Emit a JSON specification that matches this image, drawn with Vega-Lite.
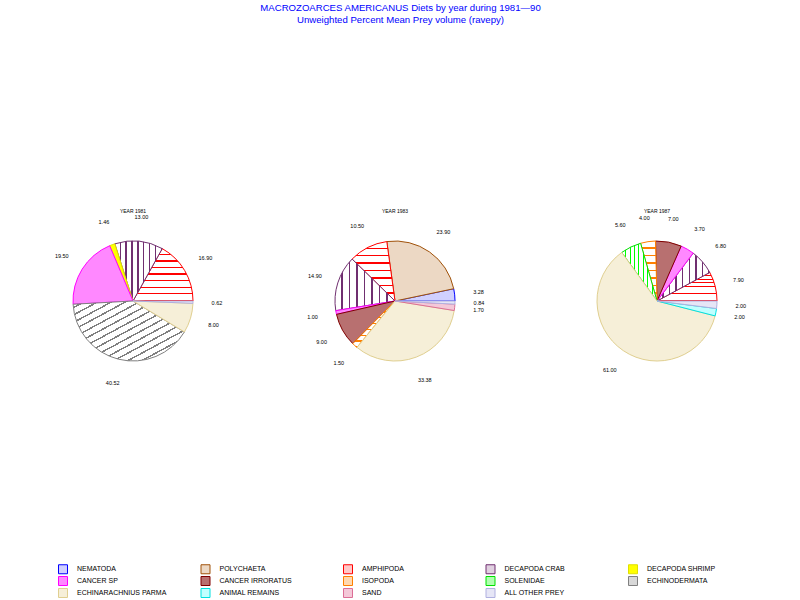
{
  "$schema": "https://vega.github.io/schema/vega-lite/v6.json",
  "background": "white",
  "padding": {"left": 54, "top": 3, "right": 5, "bottom": 5},
  "title": {
    "text": ["MACROZOARCES AMERICANUS Diets by year during 1981—90", "Unweighted Percent Mean Prey volume (ravepy)"],
    "color": "#0000ff", "fontSize": 9.6, "fontWeight": "normal", "font": "Liberation Sans",
    "anchor": "middle", "lineHeight": 12, "offset": 184
  },
  "data": {"values": [
    {"year": "YEAR 1981", "prey": "AMPHIPODA", "k": 3, "v": 16.9},
    {"year": "YEAR 1981", "prey": "DECAPODA CRAB", "k": 4, "v": 13.0},
    {"year": "YEAR 1981", "prey": "DECAPODA SHRIMP", "k": 5, "v": 1.46},
    {"year": "YEAR 1981", "prey": "CANCER SP", "k": 6, "v": 19.5},
    {"year": "YEAR 1981", "prey": "ECHINODERMATA", "k": 10, "v": 40.52},
    {"year": "YEAR 1981", "prey": "ECHINARACHNIUS PARMA", "k": 11, "v": 8.0},
    {"year": "YEAR 1981", "prey": "ALL OTHER PREY", "k": 14, "v": 0.62},
    {"year": "YEAR 1983", "prey": "NEMATODA", "k": 1, "v": 3.28},
    {"year": "YEAR 1983", "prey": "POLYCHAETA", "k": 2, "v": 23.9},
    {"year": "YEAR 1983", "prey": "AMPHIPODA", "k": 3, "v": 10.5},
    {"year": "YEAR 1983", "prey": "DECAPODA CRAB", "k": 4, "v": 14.9},
    {"year": "YEAR 1983", "prey": "CANCER SP", "k": 6, "v": 1.0},
    {"year": "YEAR 1983", "prey": "CANCER IRRORATUS", "k": 7, "v": 9.0},
    {"year": "YEAR 1983", "prey": "ISOPODA", "k": 8, "v": 1.5},
    {"year": "YEAR 1983", "prey": "ECHINARACHNIUS PARMA", "k": 11, "v": 33.38},
    {"year": "YEAR 1983", "prey": "SAND", "k": 13, "v": 1.7},
    {"year": "YEAR 1983", "prey": "ALL OTHER PREY", "k": 14, "v": 0.84},
    {"year": "YEAR 1987", "prey": "AMPHIPODA", "k": 3, "v": 7.9},
    {"year": "YEAR 1987", "prey": "DECAPODA CRAB", "k": 4, "v": 6.8},
    {"year": "YEAR 1987", "prey": "CANCER SP", "k": 6, "v": 3.7},
    {"year": "YEAR 1987", "prey": "CANCER IRRORATUS", "k": 7, "v": 7.0},
    {"year": "YEAR 1987", "prey": "ISOPODA", "k": 8, "v": 4.0},
    {"year": "YEAR 1987", "prey": "SOLENIDAE", "k": 9, "v": 5.6},
    {"year": "YEAR 1987", "prey": "ECHINARACHNIUS PARMA", "k": 11, "v": 61.0},
    {"year": "YEAR 1987", "prey": "ANIMAL REMAINS", "k": 12, "v": 2.0},
    {"year": "YEAR 1987", "prey": "ALL OTHER PREY", "k": 14, "v": 2.0}
  ]},
  "facet": {
    "column": {
      "field": "year", "type": "nominal",
      "header": {"title": null, "labelFontSize": 5, "labelFont": "Liberation Sans", "labelPadding": 1, "labelColor": "black"}
    }
  },
  "spacing": 84,
  "spec": {
    "width": 150,
    "height": 150,
    "layer": [
      {
        "mark": {"type": "arc", "outerRadius": 60, "strokeWidth": 1},
        "encoding": {
          "theta": {"field": "v", "type": "quantitative", "stack": true, "scale": {"range": [1.5708, -4.7124]}},
          "order": {"field": "k", "type": "quantitative"},
          "fill": {
            "condition": [
              {"test": "datum.prey === 'AMPHIPODA'", "value": {"gradient": "linear", "x1": 0, "y1": 0, "x2": 0, "y2": 1, "stops": [
                  {"offset": 0, "color": "#ffffff"}, {"offset": 0.1, "color": "#ffffff"}, {"offset": 0.1, "color": "#ff0000"}, {"offset": 0.125, "color": "#ff0000"},
                  {"offset": 0.125, "color": "#ffffff"}, {"offset": 0.225, "color": "#ffffff"}, {"offset": 0.225, "color": "#ff0000"}, {"offset": 0.25, "color": "#ff0000"},
                  {"offset": 0.25, "color": "#ffffff"}, {"offset": 0.35, "color": "#ffffff"}, {"offset": 0.35, "color": "#ff0000"}, {"offset": 0.375, "color": "#ff0000"},
                  {"offset": 0.375, "color": "#ffffff"}, {"offset": 0.475, "color": "#ffffff"}, {"offset": 0.475, "color": "#ff0000"}, {"offset": 0.5, "color": "#ff0000"},
                  {"offset": 0.5, "color": "#ffffff"}, {"offset": 0.6, "color": "#ffffff"}, {"offset": 0.6, "color": "#ff0000"}, {"offset": 0.625, "color": "#ff0000"},
                  {"offset": 0.625, "color": "#ffffff"}, {"offset": 0.725, "color": "#ffffff"}, {"offset": 0.725, "color": "#ff0000"}, {"offset": 0.75, "color": "#ff0000"},
                  {"offset": 0.75, "color": "#ffffff"}, {"offset": 0.85, "color": "#ffffff"}, {"offset": 0.85, "color": "#ff0000"}, {"offset": 0.875, "color": "#ff0000"},
                  {"offset": 0.875, "color": "#ffffff"}, {"offset": 0.975, "color": "#ffffff"}, {"offset": 0.975, "color": "#ff0000"}, {"offset": 1, "color": "#ff0000"}
                ]}},
              {"test": "datum.prey === 'DECAPODA CRAB'", "value": {"gradient": "linear", "x1": 0, "y1": 0, "x2": 1, "y2": 0, "stops": [
                  {"offset": 0, "color": "#ffffff"}, {"offset": 0.1, "color": "#ffffff"}, {"offset": 0.1, "color": "#702f70"}, {"offset": 0.125, "color": "#702f70"},
                  {"offset": 0.125, "color": "#ffffff"}, {"offset": 0.225, "color": "#ffffff"}, {"offset": 0.225, "color": "#702f70"}, {"offset": 0.25, "color": "#702f70"},
                  {"offset": 0.25, "color": "#ffffff"}, {"offset": 0.35, "color": "#ffffff"}, {"offset": 0.35, "color": "#702f70"}, {"offset": 0.375, "color": "#702f70"},
                  {"offset": 0.375, "color": "#ffffff"}, {"offset": 0.475, "color": "#ffffff"}, {"offset": 0.475, "color": "#702f70"}, {"offset": 0.5, "color": "#702f70"},
                  {"offset": 0.5, "color": "#ffffff"}, {"offset": 0.6, "color": "#ffffff"}, {"offset": 0.6, "color": "#702f70"}, {"offset": 0.625, "color": "#702f70"},
                  {"offset": 0.625, "color": "#ffffff"}, {"offset": 0.725, "color": "#ffffff"}, {"offset": 0.725, "color": "#702f70"}, {"offset": 0.75, "color": "#702f70"},
                  {"offset": 0.75, "color": "#ffffff"}, {"offset": 0.85, "color": "#ffffff"}, {"offset": 0.85, "color": "#702f70"}, {"offset": 0.875, "color": "#702f70"},
                  {"offset": 0.875, "color": "#ffffff"}, {"offset": 0.975, "color": "#ffffff"}, {"offset": 0.975, "color": "#702f70"}, {"offset": 1, "color": "#702f70"}
                ]}},
              {"test": "datum.prey === 'ISOPODA'", "value": {"gradient": "linear", "x1": 0, "y1": 0, "x2": 0, "y2": 1, "stops": [
                  {"offset": 0, "color": "#ffffff"}, {"offset": 0.1, "color": "#ffffff"}, {"offset": 0.1, "color": "#ff8000"}, {"offset": 0.125, "color": "#ff8000"},
                  {"offset": 0.125, "color": "#ffffff"}, {"offset": 0.225, "color": "#ffffff"}, {"offset": 0.225, "color": "#ff8000"}, {"offset": 0.25, "color": "#ff8000"},
                  {"offset": 0.25, "color": "#ffffff"}, {"offset": 0.35, "color": "#ffffff"}, {"offset": 0.35, "color": "#ff8000"}, {"offset": 0.375, "color": "#ff8000"},
                  {"offset": 0.375, "color": "#ffffff"}, {"offset": 0.475, "color": "#ffffff"}, {"offset": 0.475, "color": "#ff8000"}, {"offset": 0.5, "color": "#ff8000"},
                  {"offset": 0.5, "color": "#ffffff"}, {"offset": 0.6, "color": "#ffffff"}, {"offset": 0.6, "color": "#ff8000"}, {"offset": 0.625, "color": "#ff8000"},
                  {"offset": 0.625, "color": "#ffffff"}, {"offset": 0.725, "color": "#ffffff"}, {"offset": 0.725, "color": "#ff8000"}, {"offset": 0.75, "color": "#ff8000"},
                  {"offset": 0.75, "color": "#ffffff"}, {"offset": 0.85, "color": "#ffffff"}, {"offset": 0.85, "color": "#ff8000"}, {"offset": 0.875, "color": "#ff8000"},
                  {"offset": 0.875, "color": "#ffffff"}, {"offset": 0.975, "color": "#ffffff"}, {"offset": 0.975, "color": "#ff8000"}, {"offset": 1, "color": "#ff8000"}
                ]}},
              {"test": "datum.prey === 'SOLENIDAE'", "value": {"gradient": "linear", "x1": 0, "y1": 0, "x2": 1, "y2": 0, "stops": [
                  {"offset": 0, "color": "#ffffff"}, {"offset": 0.1, "color": "#ffffff"}, {"offset": 0.1, "color": "#00ff00"}, {"offset": 0.125, "color": "#00ff00"},
                  {"offset": 0.125, "color": "#ffffff"}, {"offset": 0.225, "color": "#ffffff"}, {"offset": 0.225, "color": "#00ff00"}, {"offset": 0.25, "color": "#00ff00"},
                  {"offset": 0.25, "color": "#ffffff"}, {"offset": 0.35, "color": "#ffffff"}, {"offset": 0.35, "color": "#00ff00"}, {"offset": 0.375, "color": "#00ff00"},
                  {"offset": 0.375, "color": "#ffffff"}, {"offset": 0.475, "color": "#ffffff"}, {"offset": 0.475, "color": "#00ff00"}, {"offset": 0.5, "color": "#00ff00"},
                  {"offset": 0.5, "color": "#ffffff"}, {"offset": 0.6, "color": "#ffffff"}, {"offset": 0.6, "color": "#00ff00"}, {"offset": 0.625, "color": "#00ff00"},
                  {"offset": 0.625, "color": "#ffffff"}, {"offset": 0.725, "color": "#ffffff"}, {"offset": 0.725, "color": "#00ff00"}, {"offset": 0.75, "color": "#00ff00"},
                  {"offset": 0.75, "color": "#ffffff"}, {"offset": 0.85, "color": "#ffffff"}, {"offset": 0.85, "color": "#00ff00"}, {"offset": 0.875, "color": "#00ff00"},
                  {"offset": 0.875, "color": "#ffffff"}, {"offset": 0.975, "color": "#ffffff"}, {"offset": 0.975, "color": "#00ff00"}, {"offset": 1, "color": "#00ff00"}
                ]}},
              {"test": "datum.prey === 'ECHINODERMATA'", "value": {"gradient": "linear", "x1": 0, "y1": 0, "x2": 1, "y2": 1, "stops": [
                  {"offset": 0, "color": "#ffffff"}, {"offset": 0.0485, "color": "#ffffff"}, {"offset": 0.0485, "color": "#808080"}, {"offset": 0.0625, "color": "#808080"},
                  {"offset": 0.0625, "color": "#ffffff"}, {"offset": 0.111, "color": "#ffffff"}, {"offset": 0.111, "color": "#808080"}, {"offset": 0.125, "color": "#808080"},
                  {"offset": 0.125, "color": "#ffffff"}, {"offset": 0.1735, "color": "#ffffff"}, {"offset": 0.1735, "color": "#808080"}, {"offset": 0.1875, "color": "#808080"},
                  {"offset": 0.1875, "color": "#ffffff"}, {"offset": 0.236, "color": "#ffffff"}, {"offset": 0.236, "color": "#808080"}, {"offset": 0.25, "color": "#808080"},
                  {"offset": 0.25, "color": "#ffffff"}, {"offset": 0.2985, "color": "#ffffff"}, {"offset": 0.2985, "color": "#808080"}, {"offset": 0.3125, "color": "#808080"},
                  {"offset": 0.3125, "color": "#ffffff"}, {"offset": 0.361, "color": "#ffffff"}, {"offset": 0.361, "color": "#808080"}, {"offset": 0.375, "color": "#808080"},
                  {"offset": 0.375, "color": "#ffffff"}, {"offset": 0.4235, "color": "#ffffff"}, {"offset": 0.4235, "color": "#808080"}, {"offset": 0.4375, "color": "#808080"},
                  {"offset": 0.4375, "color": "#ffffff"}, {"offset": 0.486, "color": "#ffffff"}, {"offset": 0.486, "color": "#808080"}, {"offset": 0.5, "color": "#808080"},
                  {"offset": 0.5, "color": "#ffffff"}, {"offset": 0.5485, "color": "#ffffff"}, {"offset": 0.5485, "color": "#808080"}, {"offset": 0.5625, "color": "#808080"},
                  {"offset": 0.5625, "color": "#ffffff"}, {"offset": 0.611, "color": "#ffffff"}, {"offset": 0.611, "color": "#808080"}, {"offset": 0.625, "color": "#808080"},
                  {"offset": 0.625, "color": "#ffffff"}, {"offset": 0.6735, "color": "#ffffff"}, {"offset": 0.6735, "color": "#808080"}, {"offset": 0.6875, "color": "#808080"},
                  {"offset": 0.6875, "color": "#ffffff"}, {"offset": 0.736, "color": "#ffffff"}, {"offset": 0.736, "color": "#808080"}, {"offset": 0.75, "color": "#808080"},
                  {"offset": 0.75, "color": "#ffffff"}, {"offset": 0.7985, "color": "#ffffff"}, {"offset": 0.7985, "color": "#808080"}, {"offset": 0.8125, "color": "#808080"},
                  {"offset": 0.8125, "color": "#ffffff"}, {"offset": 0.861, "color": "#ffffff"}, {"offset": 0.861, "color": "#808080"}, {"offset": 0.875, "color": "#808080"},
                  {"offset": 0.875, "color": "#ffffff"}, {"offset": 0.9235, "color": "#ffffff"}, {"offset": 0.9235, "color": "#808080"}, {"offset": 0.9375, "color": "#808080"},
                  {"offset": 0.9375, "color": "#ffffff"}, {"offset": 0.986, "color": "#ffffff"}, {"offset": 0.986, "color": "#808080"}, {"offset": 1, "color": "#808080"}
                ]}}
            ],
            "field": "prey", "type": "nominal",
            "scale": {
              "domain": ["NEMATODA", "POLYCHAETA", "AMPHIPODA", "DECAPODA CRAB", "DECAPODA SHRIMP", "CANCER SP", "CANCER IRRORATUS", "ISOPODA", "SOLENIDAE", "ECHINODERMATA", "ECHINARACHNIUS PARMA", "ANIMAL REMAINS", "SAND", "ALL OTHER PREY"],
              "range": ["#d0d0ff", "#ecd8c4", "#ffc8c8", "#e0d0e0", "#ffff00", "#ff88ff", "#b87070", "#ffd8b0", "#b0ffb0", "#d8d8d8", "#f6efd8", "#c0ffff", "#f4c8d8", "#e6e6f6"]
            },
            "legend": {
              "title": null, "orient": "bottom", "direction": "horizontal", "columns": 5,
              "symbolType": "square", "symbolSize": 81, "symbolStrokeWidth": 1,
              "labelFontSize": 7, "labelFont": "Liberation Sans", "labelColor": "black",
              "rowPadding": -8, "columnPadding": 31.5, "gridAlign": "all", "offset": 177, "labelOffset": 9, "padding": 0
            }
          },
          "stroke": {
            "field": "prey", "type": "nominal",
            "scale": {
              "domain": ["NEMATODA", "POLYCHAETA", "AMPHIPODA", "DECAPODA CRAB", "DECAPODA SHRIMP", "CANCER SP", "CANCER IRRORATUS", "ISOPODA", "SOLENIDAE", "ECHINODERMATA", "ECHINARACHNIUS PARMA", "ANIMAL REMAINS", "SAND", "ALL OTHER PREY"],
              "range": ["#0000ff", "#a0520a", "#ff0000", "#702f70", "#e0e000", "#ff00ff", "#800000", "#ff8000", "#00e000", "#808080", "#e0cf90", "#00e0e0", "#dc6e96", "#b0b0e0"]
            }
          }
        }
      },
      {
        "mark": {"type": "text", "radius": 84, "fontSize": 5.5, "font": "Liberation Sans", "color": "black"},
        "encoding": {
          "theta": {"field": "v", "type": "quantitative", "stack": true},
          "order": {"field": "k", "type": "quantitative"},
          "text": {"field": "v", "type": "quantitative", "format": ".2f"}
        }
      }
    ]
  },
  "resolve": {"scale": {"theta": "independent"}},
  "config": {"view": {"stroke": null}}
}
